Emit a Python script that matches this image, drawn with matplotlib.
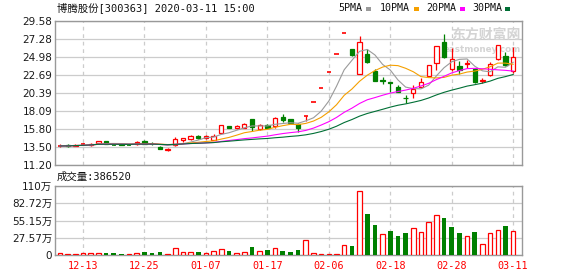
"""
Daily K-line snapshot for 博腾股份 [300363]: candles + 5/10/20/30 day MAs, volume below.
"""
import matplotlib

matplotlib.use("Agg")
import matplotlib.pyplot as plt
import numpy as np
import pandas as pd
from matplotlib.patches import Rectangle

plt.rcParams["font.family"] = ["DejaVu Sans", "Noto Sans CJK SC"]
MONO_CJK = ["DejaVu Sans Mono", "Noto Sans CJK SC"]

# ── Data ──────────────────────────────────────────────────────────────────────
dates = [
    "12-10", "12-11", "12-12", "12-13", "12-16", "12-17", "12-18", "12-19", "12-20", "12-23",
    "12-24", "12-25", "12-26", "12-27", "12-30", "12-31", "01-02", "01-03", "01-06", "01-07",
    "01-08", "01-09", "01-10", "01-13", "01-14", "01-15", "01-16", "01-17", "01-20", "01-21",
    "01-22", "01-23", "02-03", "02-04", "02-05", "02-06", "02-07", "02-10", "02-11", "02-12",
    "02-13", "02-14", "02-17", "02-18", "02-19", "02-20", "02-21", "02-24", "02-25", "02-26",
    "02-27", "02-28", "03-02", "03-03", "03-04", "03-05", "03-06", "03-09", "03-10", "03-11",
]
opens = [
    13.60, 13.78, 13.67, 13.80, 13.71, 13.96, 14.26, 13.84, 13.84, 13.82,
    13.84, 14.26, 13.94, 13.50, 13.08, 13.71, 14.34, 14.51, 14.93, 14.63,
    14.42, 15.34, 16.18, 15.88, 15.97, 17.05, 15.76, 16.26, 16.18, 17.35,
    17.01, 16.43, 17.47, 19.20, 21.08, 23.10, 25.40, 28.00, 25.98, 22.83,
    25.39, 23.16, 22.02, 21.82, 21.11, 19.80, 20.35, 21.15, 22.58, 24.21,
    26.94, 23.46, 23.88, 24.09, 23.46, 21.94, 22.66, 24.76, 25.05, 23.16,
]
highs = [
    13.84, 13.92, 13.84, 13.96, 14.00, 14.30, 14.30, 13.88, 13.96, 13.88,
    14.26, 14.43, 14.09, 13.59, 13.38, 14.76, 14.64, 15.06, 15.00, 15.00,
    15.17, 16.35, 16.22, 16.30, 16.60, 17.10, 16.43, 16.39, 17.35, 17.68,
    17.10, 16.60, 17.47, 19.20, 21.08, 23.10, 25.40, 28.00, 26.00, 27.70,
    25.98, 23.50, 22.45, 21.85, 21.40, 20.14, 21.40, 22.33, 24.00, 26.45,
    27.88, 26.18, 24.42, 24.63, 23.58, 22.33, 24.34, 26.55, 25.68, 26.23,
]
lows = [
    13.46, 13.54, 13.63, 13.71, 13.67, 13.92, 13.88, 13.75, 13.75, 13.70,
    13.71, 13.88, 13.71, 13.21, 12.95, 13.67, 14.13, 14.43, 14.50, 14.55,
    14.38, 15.30, 15.88, 15.76, 15.88, 15.59, 15.68, 15.88, 15.97, 16.72,
    16.51, 15.47, 16.85, 19.20, 21.08, 23.10, 25.40, 28.00, 25.10, 22.83,
    24.20, 21.88, 21.48, 20.56, 20.47, 19.17, 19.80, 21.15, 22.50, 23.37,
    24.90, 23.20, 22.87, 23.58, 21.70, 21.69, 22.60, 24.55, 23.90, 22.95,
]
closes = [
    13.63, 13.65, 13.75, 13.84, 13.92, 14.26, 13.92, 13.80, 13.78, 13.79,
    14.17, 13.92, 13.90, 13.29, 13.29, 14.51, 14.59, 14.93, 14.59, 14.84,
    14.88, 16.30, 15.97, 16.18, 16.39, 16.09, 16.30, 15.97, 17.22, 16.89,
    16.60, 15.97, 17.47, 19.20, 21.08, 23.10, 25.40, 28.00, 25.18, 26.86,
    24.30, 21.90, 21.96, 21.61, 20.52, 19.72, 20.94, 21.82, 23.96, 26.40,
    24.97, 24.72, 23.37, 24.21, 21.78, 22.00, 24.13, 26.52, 23.92, 24.97,
]
# volume in 万股
volumes = [
    2.7, 1.6, 1.6, 2.7, 3.8, 3.8, 2.7, 2.7, 1.6, 1.6,
    3.8, 4.3, 2.7, 4.3, 1.6, 11.9, 5.4, 5.4, 4.3, 3.8,
    7.0, 10.2, 5.9, 3.8, 5.4, 12.4, 7.0, 7.5, 11.9, 5.9,
    4.3, 7.5, 23.2, 3.8, 1.1, 1.1, 1.1, 16.7, 14.0, 102.5,
    65.8, 48.0, 32.9, 38.3, 30.2, 35.0, 42.6, 36.1, 52.3, 63.6,
    59.3, 44.8, 35.0, 29.7, 36.7, 18.3, 34.5, 39.4, 46.4, 38.652,
]
# volume bar colour: 1 = red (up vs previous close), 0 = green
vol_up = [
    1, 1, 1, 1, 1, 1, 0, 0, 0, 1,
    1, 0, 0, 0, 1, 1, 1, 1, 0, 1,
    1, 1, 0, 1, 1, 0, 1, 0, 1, 0,
    0, 0, 1, 1, 1, 1, 1, 1, 0, 1,
    0, 0, 1, 0, 0, 0, 1, 1, 1, 1,
    0, 0, 0, 1, 0, 1, 1, 1, 0, 1,
]
ma_windows = [5, 10, 20, 30]
ma_colors = ["#9a9a9a", "#f5a000", "#ff00ff", "#006f35"]
price_ticks = [11.20, 13.50, 15.80, 18.09, 20.39, 22.69, 24.98, 27.28, 29.58]
vol_ticks = [0, 27.57, 55.15, 82.72, 110.3]
vol_tick_labels = ["0", "27.57万", "55.15万", "82.72万", "110万"]
date_ticks = ["12-13", "12-25", "01-07", "01-17", "02-06", "02-18", "02-28", "03-11"]

RED, GREEN = "#ff0000", "#008000"
GRID, FRAME = "#cccccc", "#999999"
W, H = 578, 276


def fx(px):
    return px / W


def fy(py):
    return 1 - py / H


def style_axes(ax):
    for s in ax.spines.values():
        s.set_color(FRAME)
        s.set_linewidth(1.0)
    ax.tick_params(length=0, labelsize=7.5, colors="#1a1a1a", pad=2)
    ax.set_xlim(-0.65, 60.15)
    xt = [dates.index(d) for d in date_ticks]
    ax.set_xticks(xt)
    ax.grid(axis="y", color=GRID, lw=0.9, ls="-")
    ax.grid(axis="x", color=GRID, lw=0.9, ls=(0, (3, 3)))
    ax.set_axisbelow(True)


# ── Figure ────────────────────────────────────────────────────────────────────
fig = plt.figure(figsize=(W / 100, H / 100), dpi=100)
ax = fig.add_axes([fx(55), fy(165), fx(522) - fx(55), fy(21) - fy(165)])
axv = fig.add_axes([fx(55), fy(255), fx(522) - fx(55), fy(186) - fy(255)])
style_axes(ax)
style_axes(axv)

# candles
bw = 0.56
for i, (o, h, l, c) in enumerate(zip(opens, highs, lows, closes)):
    col = RED if c >= o else GREEN
    ax.vlines(i, l, h, color=col, lw=0.9, zorder=3)
    if abs(c - o) < 0.05:
        ax.hlines(c, i - bw / 2, i + bw / 2, color=col, lw=1.2, zorder=4)
    else:
        face = "white" if col == RED else GREEN
        ax.add_patch(Rectangle((i - bw / 2, min(o, c)), bw, abs(c - o),
                               facecolor=face, edgecolor=col, lw=0.9, zorder=4))

# moving averages
close_s = pd.Series(closes)
x = np.arange(len(closes))
for win, col in zip(ma_windows, ma_colors):
    ax.plot(x, close_s.rolling(win, min_periods=1).mean(), color=col, lw=0.8, zorder=5)

ax.set_ylim(price_ticks[0], price_ticks[-1])
ax.set_yticks(price_ticks)
ax.set_yticklabels([f"{t:.2f}" for t in price_ticks])
ax.set_xticklabels([])

# watermark
ax.text(0.997, 0.955, "东方财富网", transform=ax.transAxes, ha="right", va="top",
        fontsize=10, fontweight="bold", color="#d4d4d4", family=["Noto Sans CJK SC"], zorder=1)
ax.text(0.997, 0.835, "eastmoney.com", transform=ax.transAxes, ha="right", va="top",
        fontsize=6.3, fontweight="bold", color="#d4d4d4", zorder=1)

# volume
for i, (v, up) in enumerate(zip(volumes, vol_up)):
    if up:
        axv.bar(i, v, width=0.6, facecolor="white", edgecolor=RED, lw=0.9, zorder=3)
    else:
        axv.bar(i, v, width=0.6, color=GREEN, lw=0, zorder=3)
axv.set_ylim(0, vol_ticks[-1])
axv.set_yticks(vol_ticks)
axv.set_yticklabels(vol_tick_labels)
axv.set_xticklabels(date_ticks, family=MONO_CJK, fontsize=7.3, color=RED)
axv.tick_params(axis="x", pad=4)

# header texts
fig.text(fx(57), fy(8), "博腾股份[300363] 2020-03-11 15:00", family=MONO_CJK,
         fontsize=7.5, va="center", ha="left", color="#111111")
fig.text(fx(57), fy(177), f"成交量:{int(round(volumes[-1] * 10000))}", family=MONO_CJK,
         fontsize=7.5, va="center", ha="left", color="#111111")

legend_x = [338, 380, 426, 472]
swatch_x = [366, 414, 460, 505]
for win, col, tx, sx in zip(ma_windows, ma_colors, legend_x, swatch_x):
    fig.text(fx(tx), fy(8), f"{win}PMA", family=MONO_CJK, fontsize=7.2,
             va="center", ha="left", color="#111111")
    fig.add_artist(Rectangle((fx(sx), fy(10.5)), 5 / W, 3 / H, transform=fig.transFigure,
                             facecolor=col, edgecolor="none"))

fig.savefig("out.png", dpi=100)
